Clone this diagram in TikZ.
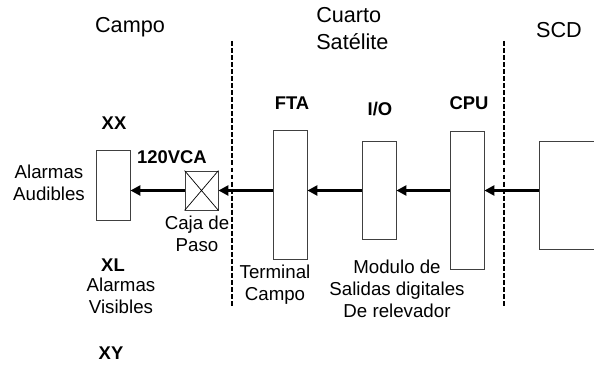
\documentclass[tikz,border=0pt]{standalone}
\usepackage{fontspec}
\setmainfont{Liberation Sans}
\usetikzlibrary{arrows.meta,calc}

\begin{document}
\begin{tikzpicture}[font=\fontsize{13.3}{15.5}\selectfont,
  caja/.style={draw=black!75, line width=0.6pt, inner sep=0pt, minimum width=0.85cm},
  flecha/.style={line width=2pt, -{Triangle[length=7pt,width=7pt]}},
  limite/.style={line width=1.2pt, dash pattern=on 3.5pt off 1.5pt},
  etiq/.style={font=\fontsize{13.1}{15.5}\selectfont\bfseries},
  zona/.style={font=\fontsize{15.4}{19}\selectfont, inner sep=0pt},
  texto/.style={align=center, inner sep=0pt}]
\clip (0,0) rectangle (14.85,9.2);
% cajas
\node[caja, minimum height=1.75cm] (xx) at (2.825,4.575) {};
\node[caja, minimum width=0.825cm, minimum height=0.975cm] (paso) at (5.0375,4.4375) {};
\draw[line width=0.5pt] (paso.north west) -- (paso.south east) (paso.north east) -- (paso.south west);
\node[caja, minimum height=3.225cm] (fta) at (7.25,4.3375) {};
\node[caja, minimum height=2.45cm] (io) at (9.475,4.45) {};
\node[caja, minimum height=3.45cm] (cpu) at (11.675,4.2) {};
\node[caja, minimum width=2.55cm, minimum height=2.7cm] (scd) at (14.75,4.325) {};
% flechas
\draw[flecha] (scd.west |- paso) -- (cpu.east |- paso);
\draw[flecha] (cpu.west |- paso) -- (io.east |- paso);
\draw[flecha] (io.west |- paso) -- (fta.east |- paso);
\draw[flecha] (fta.west |- paso) -- (paso.east);
\draw[flecha] (paso.west) -- (xx.east |- paso);
% limites
\coordinate (l1a) at (5.8,8.175); \coordinate (l1b) at (5.8,1.525);
\coordinate (l2a) at (12.6,8.175); \coordinate (l2b) at (12.6,1.525);
\draw[limite] (l1a) -- (l1b);
\draw[limite] (l2a) -- (l2b);
% textos
\node[zona] (campo) at (3.25,8.525) {Campo};
\node[zona, align=left, anchor=west] (cuarto) at (7.9,8.49) {Cuarto\\Satélite};
\node[zona] (scdt) at (13.975,8.45) {SCD};
\node[etiq] (xxt) at (2.85,6.125) {XX};
\node[etiq] (vca) at (4.3,5.275) {120VCA};
\node[texto] (audibles) at (1.225,4.6375) {Alarmas\\Audibles};
\node[etiq] (ftat) at (7.3,6.625) {FTA};
\node[etiq] (iot) at (9.5,6.475) {I/O};
\node[etiq] (cput) at (11.725,6.625) {CPU};
\node[texto] (pasot) at (4.925,3.35) {Caja de\\Paso};
\node[etiq] (xl) at (2.825,2.575) {XL};
\node[texto] (visibles) at (3.025,1.8) {Alarmas\\Visibles};
\node[etiq] (xy) at (2.775,0.375) {XY};
\node[texto] (terminal) at (6.875,2.0875) {Terminal\\Campo};
\node[texto] (modulo) at (9.925,1.975) {Modulo de\\Salidas digitales\\De relevador};
\end{tikzpicture}
\end{document}
